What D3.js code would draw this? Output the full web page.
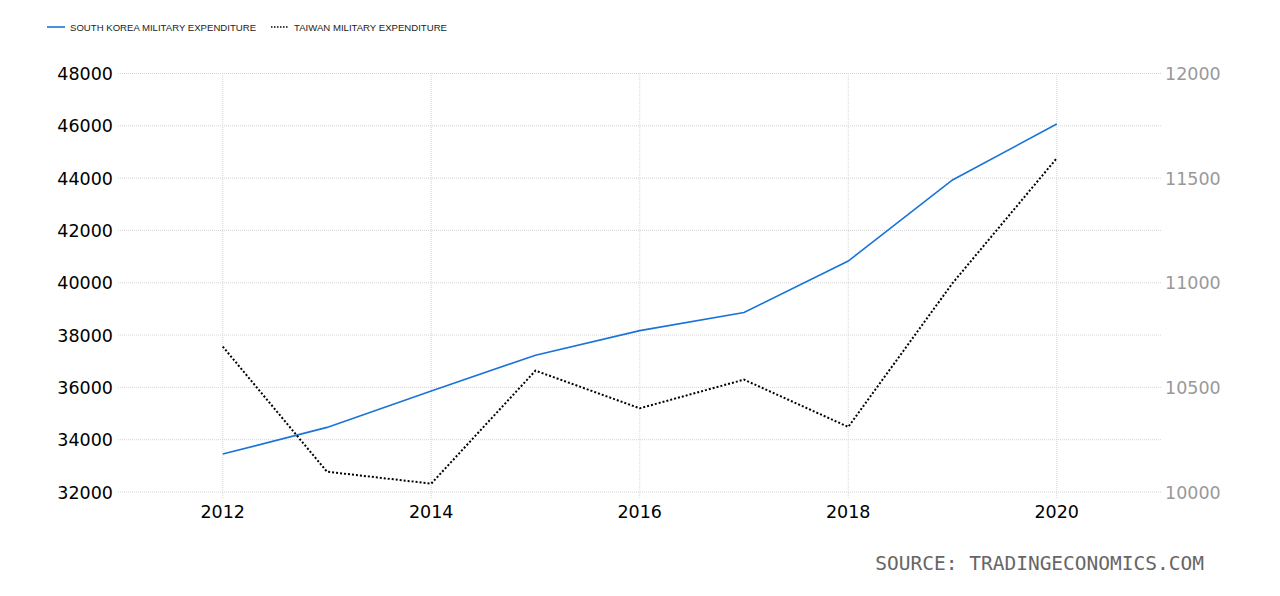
<!DOCTYPE html>
<html><head><meta charset="utf-8">
<script src="https://cdn.jsdelivr.net/npm/d3@7"></script>
<style>body{margin:0;background:#fff;}svg{display:block;}</style>
</head><body>
<svg id="c" width="1280" height="596"></svg>
<script>
const years = [2012,2013,2014,2015,2016,2017,2018,2019,2020];
const southKorea = [33450,34470,35860,37230,38170,38860,40830,43930,46070];
const taiwan = [10695,10097,10040,10580,10400,10537,10311,10998,11595];
const leftTicks = [32000,34000,36000,38000,40000,42000,44000,46000,48000];
const rightTicks = [10000,10500,11000,11500,12000];
const xTicks = [2012,2014,2016,2018,2020];
const legendLabels = ["SOUTH KOREA MILITARY EXPENDITURE","TAIWAN MILITARY EXPENDITURE"];

const svg = d3.select("#c");
const x = d3.scaleLinear().domain([2011,2021]).range([118.5,1161]);
const yL = d3.scaleLinear().domain([32000,48000]).range([492,73.5]);
const yR = d3.scaleLinear().domain([10000,12000]).range([492,73.5]);

// horizontal gridlines
svg.append("g").selectAll("line").data(leftTicks).join("line")
  .attr("x1",118).attr("x2",1161)
  .attr("y1",d=>yL(d)).attr("y2",d=>yL(d))
  .attr("stroke","#d6d6d6").attr("stroke-width",1).attr("stroke-dasharray","1,1");
// vertical gridlines
svg.append("g").selectAll("line").data(xTicks).join("line")
  .attr("x1",d=>x(d)).attr("x2",d=>x(d))
  .attr("y1",73).attr("y2",498)
  .attr("stroke","#d6d6d6").attr("stroke-width",1).attr("stroke-dasharray","1,1");

// left axis labels
svg.append("g").selectAll("text").data(leftTicks).join("text")
  .attr("x",113).attr("y",d=>yL(d)+6.5).attr("text-anchor","end")
  .attr("font-family","DejaVu Sans, sans-serif").attr("font-size",17.5).attr("fill","#000")
  .text(d=>d);
// right axis labels
svg.append("g").selectAll("text").data(rightTicks).join("text")
  .attr("x",1165).attr("y",d=>yR(d)+6.5).attr("text-anchor","start")
  .attr("font-family","DejaVu Sans, sans-serif").attr("font-size",17.5).attr("fill","#999")
  .text(d=>d);
// x labels
svg.append("g").selectAll("text").data(xTicks).join("text")
  .attr("x",d=>x(d)).attr("y",518).attr("text-anchor","middle")
  .attr("font-family","DejaVu Sans, sans-serif").attr("font-size",17.5).attr("fill","#000")
  .text(d=>d);

// lines
const lineL = d3.line().x((d,i)=>x(years[i])).y(d=>yL(d));
const lineR = d3.line().x((d,i)=>x(years[i])).y(d=>yR(d));
svg.append("path").datum(southKorea).attr("d",lineL)
  .attr("fill","none").attr("stroke","#1a73d9").attr("stroke-width",1.6);
svg.append("path").datum(taiwan).attr("d",lineR)
  .attr("fill","none").attr("stroke","#000").attr("stroke-width",2).attr("stroke-dasharray","2,2");

// legend
const lg = svg.append("g").attr("font-family","Liberation Sans, Arial, sans-serif").attr("font-size",9.6).attr("fill","#222");
lg.append("line").attr("x1",47).attr("x2",65).attr("y1",27).attr("y2",27).attr("stroke","#1a73d9").attr("stroke-width",1.6);
lg.append("text").attr("x",70).attr("y",31).text(legendLabels[0]);
lg.append("line").attr("x1",271).attr("x2",288).attr("y1",27).attr("y2",27).attr("stroke","#000").attr("stroke-width",1.6).attr("stroke-dasharray","1.5,1.5");
lg.append("text").attr("x",294).attr("y",31).text(legendLabels[1]);

// source
svg.append("text").attr("x",1204).attr("y",570).attr("text-anchor","end")
  .attr("font-family","DejaVu Sans Mono, monospace").attr("font-size",19.5).attr("fill","#666")
  .text("SOURCE: TRADINGECONOMICS.COM");
</script>
</body></html>
